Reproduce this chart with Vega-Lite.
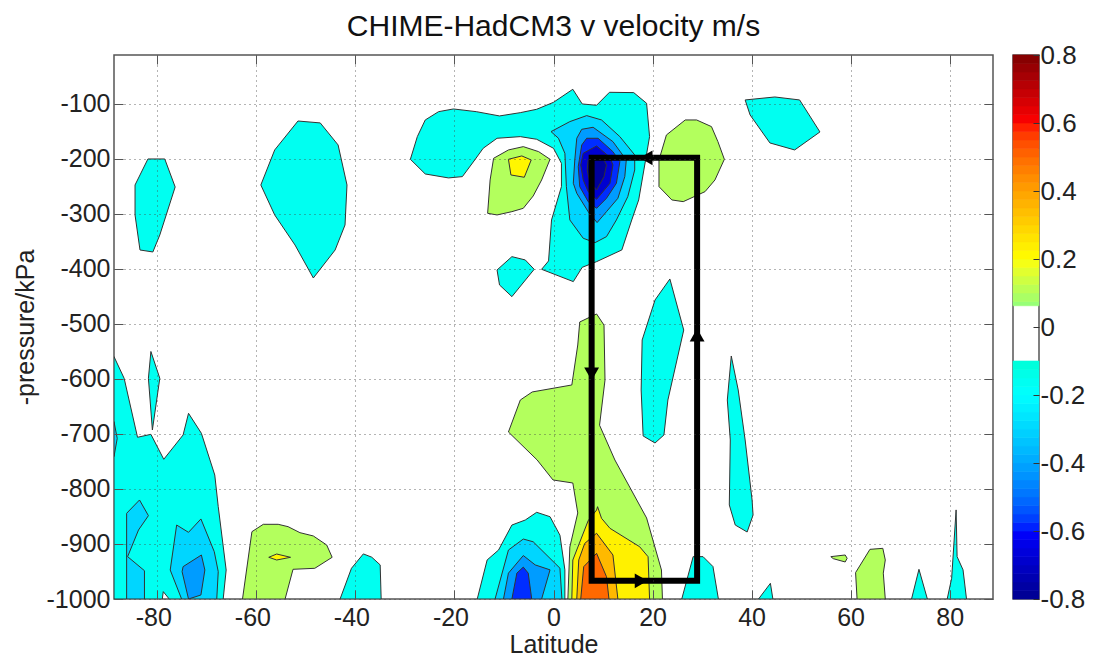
{"$schema":"https://vega.github.io/schema/vega-lite/v6.json","background":"white","padding":{"left":12,"top":10,"right":0,"bottom":0},"autosize":{"type":"pad"},"spacing":16,"config":{"font":"Liberation Sans","view":{"stroke":"#555","strokeWidth":1.5}},"datasets":{"polys":[
{"s":"a","i":0,"x":-28.9,"y":-200.6,"v":-0.16},{"s":"a","i":1,"x":-27.5,"y":-159.4,"v":-0.16},{"s":"a","i":2,"x":-25.9,"y":-129.1,"v":-0.16},{"s":"a","i":3,"x":-23.2,"y":-114,"v":-0.16},{"s":"a","i":4,"x":-20.2,"y":-109.1,"v":-0.16},{"s":"a","i":5,"x":-15.6,"y":-114,"v":-0.16},{"s":"a","i":6,"x":-10.9,"y":-121.8,"v":-0.16},{"s":"a","i":7,"x":-6.7,"y":-115.8,"v":-0.16},{"s":"a","i":8,"x":-3.4,"y":-109.7,"v":-0.16},{"s":"a","i":9,"x":0,"y":-97,"v":-0.16},{"s":"a","i":10,"x":3.9,"y":-73.3,"v":-0.16},{"s":"a","i":11,"x":5.8,"y":-100,"v":-0.16},{"s":"a","i":12,"x":8.7,"y":-102.4,"v":-0.16},{"s":"a","i":13,"x":11.3,"y":-78.8,"v":-0.16},{"s":"a","i":14,"x":16.2,"y":-79.4,"v":-0.16},{"s":"a","i":15,"x":18.8,"y":-98.8,"v":-0.16},{"s":"a","i":16,"x":19.4,"y":-159.4,"v":-0.16},{"s":"a","i":17,"x":18.6,"y":-201.8,"v":-0.16},{"s":"a","i":18,"x":17.2,"y":-274.5,"v":-0.16},{"s":"a","i":19,"x":15.8,"y":-310.9,"v":-0.16},{"s":"a","i":20,"x":13.8,"y":-365.4,"v":-0.16},{"s":"a","i":21,"x":8.7,"y":-386.7,"v":-0.16},{"s":"a","i":22,"x":5.8,"y":-397,"v":-0.16},{"s":"a","i":23,"x":4,"y":-423,"v":-0.16},{"s":"a","i":24,"x":-2.4,"y":-400.6,"v":-0.16},{"s":"a","i":25,"x":-1,"y":-385.4,"v":-0.16},{"s":"a","i":26,"x":-0.4,"y":-310.9,"v":-0.16},{"s":"a","i":27,"x":1.6,"y":-250.3,"v":-0.16},{"s":"a","i":28,"x":1.6,"y":-207.9,"v":-0.16},{"s":"a","i":29,"x":0,"y":-180.6,"v":-0.16},{"s":"a","i":30,"x":-3.4,"y":-164.2,"v":-0.16},{"s":"a","i":31,"x":-6.7,"y":-159.4,"v":-0.16},{"s":"a","i":32,"x":-11.4,"y":-162.4,"v":-0.16},{"s":"a","i":33,"x":-14.2,"y":-180.6,"v":-0.16},{"s":"a","i":34,"x":-15.9,"y":-201.8,"v":-0.16},{"s":"a","i":35,"x":-18.4,"y":-232.1,"v":-0.16},{"s":"a","i":36,"x":-21.2,"y":-234.5,"v":-0.16},{"s":"a","i":37,"x":-25.9,"y":-227.3,"v":-0.16},{"s":"a","i":38,"x":-28.9,"y":-200.6,"v":-0.16},
{"s":"b","i":0,"x":-0.5,"y":-150.3,"v":-0.3},{"s":"b","i":1,"x":3.3,"y":-132.1,"v":-0.3},{"s":"b","i":2,"x":6.7,"y":-121.2,"v":-0.3},{"s":"b","i":3,"x":9.7,"y":-129.1,"v":-0.3},{"s":"b","i":4,"x":13.4,"y":-159.4,"v":-0.3},{"s":"b","i":5,"x":16.4,"y":-192.7,"v":-0.3},{"s":"b","i":6,"x":16.4,"y":-220,"v":-0.3},{"s":"b","i":7,"x":15,"y":-268.5,"v":-0.3},{"s":"b","i":8,"x":12.7,"y":-310.9,"v":-0.3},{"s":"b","i":9,"x":10.7,"y":-341.2,"v":-0.3},{"s":"b","i":10,"x":8.4,"y":-352.1,"v":-0.3},{"s":"b","i":11,"x":6,"y":-344.2,"v":-0.3},{"s":"b","i":12,"x":3.3,"y":-310.9,"v":-0.3},{"s":"b","i":13,"x":2.6,"y":-250.3,"v":-0.3},{"s":"b","i":14,"x":2.3,"y":-189.7,"v":-0.3},{"s":"b","i":15,"x":1,"y":-162.4,"v":-0.3},{"s":"b","i":16,"x":-0.5,"y":-150.3,"v":-0.3},
{"s":"c","i":0,"x":4.7,"y":-162.4,"v":-0.42},{"s":"c","i":1,"x":5.7,"y":-146.1,"v":-0.42},{"s":"c","i":2,"x":8,"y":-142.4,"v":-0.42},{"s":"c","i":3,"x":12,"y":-168.5,"v":-0.42},{"s":"c","i":4,"x":14.7,"y":-201.8,"v":-0.42},{"s":"c","i":5,"x":14.4,"y":-232.1,"v":-0.42},{"s":"c","i":6,"x":13,"y":-271.5,"v":-0.42},{"s":"c","i":7,"x":10.7,"y":-295.8,"v":-0.42},{"s":"c","i":8,"x":8.8,"y":-315.7,"v":-0.42},{"s":"c","i":9,"x":7,"y":-295.8,"v":-0.42},{"s":"c","i":10,"x":4.7,"y":-262.4,"v":-0.42},{"s":"c","i":11,"x":4,"y":-244.2,"v":-0.42},{"s":"c","i":12,"x":4.3,"y":-201.8,"v":-0.42},{"s":"c","i":13,"x":4.7,"y":-162.4,"v":-0.42},
{"s":"d","i":0,"x":5.7,"y":-174.6,"v":-0.58},{"s":"d","i":1,"x":6.7,"y":-162.4,"v":-0.58},{"s":"d","i":2,"x":9,"y":-162.4,"v":-0.58},{"s":"d","i":3,"x":12,"y":-186.7,"v":-0.58},{"s":"d","i":4,"x":13.4,"y":-204.9,"v":-0.58},{"s":"d","i":5,"x":12.7,"y":-244.2,"v":-0.58},{"s":"d","i":6,"x":10.7,"y":-271.5,"v":-0.58},{"s":"d","i":7,"x":8.7,"y":-289.7,"v":-0.58},{"s":"d","i":8,"x":7,"y":-277.6,"v":-0.58},{"s":"d","i":9,"x":5.3,"y":-250.3,"v":-0.58},{"s":"d","i":10,"x":5,"y":-213.9,"v":-0.58},{"s":"d","i":11,"x":5.7,"y":-174.6,"v":-0.58},
{"s":"e","i":0,"x":6,"y":-189.7,"v":-0.68},{"s":"e","i":1,"x":8.7,"y":-176.4,"v":-0.68},{"s":"e","i":2,"x":11.4,"y":-197,"v":-0.68},{"s":"e","i":3,"x":12,"y":-210.9,"v":-0.68},{"s":"e","i":4,"x":11.4,"y":-244.2,"v":-0.68},{"s":"e","i":5,"x":8.7,"y":-273.3,"v":-0.68},{"s":"e","i":6,"x":7,"y":-259.4,"v":-0.68},{"s":"e","i":7,"x":6,"y":-238.2,"v":-0.68},{"s":"e","i":8,"x":5.5,"y":-210.9,"v":-0.68},{"s":"e","i":9,"x":6,"y":-189.7,"v":-0.68},
{"s":"f","i":0,"x":7,"y":-201.8,"v":-0.78},{"s":"f","i":1,"x":10,"y":-198.8,"v":-0.78},{"s":"f","i":2,"x":10.7,"y":-210.9,"v":-0.78},{"s":"f","i":3,"x":10.2,"y":-232.1,"v":-0.78},{"s":"f","i":4,"x":8.7,"y":-256.4,"v":-0.78},{"s":"f","i":5,"x":7.3,"y":-241.2,"v":-0.78},{"s":"f","i":6,"x":6.8,"y":-220,"v":-0.78},{"s":"f","i":7,"x":7,"y":-201.8,"v":-0.78},
{"s":"g","i":0,"x":-12.1,"y":-198.8,"v":0.1},{"s":"g","i":1,"x":-9.1,"y":-183.6,"v":0.1},{"s":"g","i":2,"x":-6.1,"y":-177.6,"v":0.1},{"s":"g","i":3,"x":-3,"y":-186.7,"v":0.1},{"s":"g","i":4,"x":-0.7,"y":-200.6,"v":0.1},{"s":"g","i":5,"x":-2.4,"y":-238.2,"v":0.1},{"s":"g","i":6,"x":-4.1,"y":-267.3,"v":0.1},{"s":"g","i":7,"x":-6.1,"y":-289.7,"v":0.1},{"s":"g","i":8,"x":-8.4,"y":-295.8,"v":0.1},{"s":"g","i":9,"x":-11.4,"y":-301.8,"v":0.1},{"s":"g","i":10,"x":-13.3,"y":-298.8,"v":0.1},{"s":"g","i":11,"x":-12.8,"y":-238.2,"v":0.1},{"s":"g","i":12,"x":-12.1,"y":-198.8,"v":0.1},
{"s":"h","i":0,"x":-9.1,"y":-200.6,"v":0.22},{"s":"h","i":1,"x":-6.4,"y":-194.5,"v":0.22},{"s":"h","i":2,"x":-4.5,"y":-201.8,"v":0.22},{"s":"h","i":3,"x":-5.9,"y":-233.3,"v":0.22},{"s":"h","i":4,"x":-8.6,"y":-229.1,"v":0.22},{"s":"h","i":5,"x":-9.1,"y":-200.6,"v":0.22},
{"s":"k","i":0,"x":21.3,"y":-201.8,"v":0.1},{"s":"k","i":1,"x":22.8,"y":-156.4,"v":0.1},{"s":"k","i":2,"x":26.6,"y":-129.1,"v":0.1},{"s":"k","i":3,"x":28.9,"y":-129.1,"v":0.1},{"s":"k","i":4,"x":31.9,"y":-141.2,"v":0.1},{"s":"k","i":5,"x":33.2,"y":-168.5,"v":0.1},{"s":"k","i":6,"x":34.5,"y":-200.6,"v":0.1},{"s":"k","i":7,"x":32.6,"y":-238.2,"v":0.1},{"s":"k","i":8,"x":30.6,"y":-259.4,"v":0.1},{"s":"k","i":9,"x":26.2,"y":-277.6,"v":0.1},{"s":"k","i":10,"x":23.9,"y":-274.5,"v":0.1},{"s":"k","i":11,"x":21.3,"y":-250.3,"v":0.1},{"s":"k","i":12,"x":21.3,"y":-201.8,"v":0.1},
{"s":"l","i":0,"x":-11.4,"y":-401.8,"v":-0.16},{"s":"l","i":1,"x":-8.4,"y":-377.6,"v":-0.16},{"s":"l","i":2,"x":-5.7,"y":-383.6,"v":-0.16},{"s":"l","i":3,"x":-3.9,"y":-400.6,"v":-0.16},{"s":"l","i":4,"x":-8.4,"y":-450.3,"v":-0.16},{"s":"l","i":5,"x":-10.9,"y":-429.1,"v":-0.16},{"s":"l","i":6,"x":-11.4,"y":-401.8,"v":-0.16},
{"s":"m","i":0,"x":-59.1,"y":-247.3,"v":-0.16},{"s":"m","i":1,"x":-56.3,"y":-183.6,"v":-0.16},{"s":"m","i":2,"x":-51.6,"y":-131,"v":-0.16},{"s":"m","i":3,"x":-47.1,"y":-134.5,"v":-0.16},{"s":"m","i":4,"x":-43.5,"y":-174.5,"v":-0.16},{"s":"m","i":5,"x":-41.7,"y":-247.3,"v":-0.16},{"s":"m","i":6,"x":-42.1,"y":-320,"v":-0.16},{"s":"m","i":7,"x":-44.1,"y":-365.5,"v":-0.16},{"s":"m","i":8,"x":-48.5,"y":-416.4,"v":-0.16},{"s":"m","i":9,"x":-52.2,"y":-356.4,"v":-0.16},{"s":"m","i":10,"x":-56.3,"y":-301.8,"v":-0.16},{"s":"m","i":11,"x":-59.1,"y":-247.3,"v":-0.16},
{"s":"n","i":0,"x":-84.5,"y":-247.3,"v":-0.16},{"s":"n","i":1,"x":-81.9,"y":-200,"v":-0.16},{"s":"n","i":2,"x":-78.5,"y":-200,"v":-0.16},{"s":"n","i":3,"x":-76.4,"y":-250.9,"v":-0.16},{"s":"n","i":4,"x":-79.5,"y":-338.2,"v":-0.16},{"s":"n","i":5,"x":-80.9,"y":-369.1,"v":-0.16},{"s":"n","i":6,"x":-83.5,"y":-365.5,"v":-0.16},{"s":"n","i":7,"x":-84.5,"y":-301.8,"v":-0.16},{"s":"n","i":8,"x":-84.5,"y":-247.3,"v":-0.16},
{"s":"o","i":0,"x":38.7,"y":-92.7,"v":-0.16},{"s":"o","i":1,"x":44.7,"y":-87.3,"v":-0.16},{"s":"o","i":2,"x":49.7,"y":-92.7,"v":-0.16},{"s":"o","i":3,"x":53.8,"y":-150.9,"v":-0.16},{"s":"o","i":4,"x":48.7,"y":-183.6,"v":-0.16},{"s":"o","i":5,"x":43.7,"y":-170.9,"v":-0.16},{"s":"o","i":6,"x":39.7,"y":-120,"v":-0.16},{"s":"o","i":7,"x":38.7,"y":-92.7,"v":-0.16},
{"s":"p","i":0,"x":23.5,"y":-418.2,"v":-0.16},{"s":"p","i":1,"x":26.3,"y":-511,"v":-0.16},{"s":"p","i":2,"x":23.1,"y":-638.2,"v":-0.16},{"s":"p","i":3,"x":22.3,"y":-701.8,"v":-0.16},{"s":"p","i":4,"x":20.5,"y":-716.4,"v":-0.16},{"s":"p","i":5,"x":18.1,"y":-703.6,"v":-0.16},{"s":"p","i":6,"x":17.7,"y":-620,"v":-0.16},{"s":"p","i":7,"x":17.9,"y":-529.1,"v":-0.16},{"s":"p","i":8,"x":20.5,"y":-456.4,"v":-0.16},{"s":"p","i":9,"x":23.5,"y":-418.2,"v":-0.16},
{"s":"q","i":0,"x":35.9,"y":-558.2,"v":-0.16},{"s":"q","i":1,"x":37.3,"y":-620,"v":-0.16},{"s":"q","i":2,"x":38.7,"y":-710.9,"v":-0.16},{"s":"q","i":3,"x":40.1,"y":-820,"v":-0.16},{"s":"q","i":4,"x":40.3,"y":-847.3,"v":-0.16},{"s":"q","i":5,"x":39.1,"y":-878.2,"v":-0.16},{"s":"q","i":6,"x":36.7,"y":-865.5,"v":-0.16},{"s":"q","i":7,"x":35.5,"y":-829.1,"v":-0.16},{"s":"q","i":8,"x":35.7,"y":-710.9,"v":-0.16},{"s":"q","i":9,"x":35.1,"y":-638.2,"v":-0.16},{"s":"q","i":10,"x":35.9,"y":-558.2,"v":-0.16},
{"s":"r","i":0,"x":5.3,"y":-496.4,"v":0.1},{"s":"r","i":1,"x":8.7,"y":-481.8,"v":0.1},{"s":"r","i":2,"x":10.2,"y":-502,"v":0.1},{"s":"r","i":3,"x":10.4,"y":-602,"v":0.1},{"s":"r","i":4,"x":9.3,"y":-684,"v":0.1},{"s":"r","i":5,"x":12.4,"y":-747.3,"v":0.1},{"s":"r","i":6,"x":18.8,"y":-852.7,"v":0.1},{"s":"r","i":7,"x":21.8,"y":-947.3,"v":0.1},{"s":"r","i":8,"x":22,"y":-1000,"v":0.1},{"s":"r","i":9,"x":2.9,"y":-1000,"v":0.1},{"s":"r","i":10,"x":3.3,"y":-905.5,"v":0.1},{"s":"r","i":11,"x":4.9,"y":-843.6,"v":0.1},{"s":"r","i":12,"x":3.9,"y":-789.1,"v":0.1},{"s":"r","i":13,"x":-0.1,"y":-783.6,"v":0.1},{"s":"r","i":14,"x":-3.3,"y":-747.3,"v":0.1},{"s":"r","i":15,"x":-9.1,"y":-696.4,"v":0.1},{"s":"r","i":16,"x":-6.7,"y":-638.2,"v":0.1},{"s":"r","i":17,"x":-4.3,"y":-623.6,"v":0.1},{"s":"r","i":18,"x":3.7,"y":-610.9,"v":0.1},{"s":"r","i":19,"x":4.9,"y":-538.2,"v":0.1},{"s":"r","i":20,"x":5.3,"y":-496.4,"v":0.1},
{"s":"t","i":0,"x":3.7,"y":-1000,"v":0.23},{"s":"t","i":1,"x":3.9,"y":-929.1,"v":0.23},{"s":"t","i":2,"x":7,"y":-857.6,"v":0.23},{"s":"t","i":3,"x":8.7,"y":-838.2,"v":0.23},{"s":"t","i":4,"x":8.9,"y":-832.2,"v":0.23},{"s":"t","i":5,"x":9.7,"y":-853.3,"v":0.23},{"s":"t","i":6,"x":11.4,"y":-871.5,"v":0.23},{"s":"t","i":7,"x":17.4,"y":-905,"v":0.23},{"s":"t","i":8,"x":19.1,"y":-923.1,"v":0.23},{"s":"t","i":9,"x":19.4,"y":-1000,"v":0.23},{"s":"t","i":10,"x":3.7,"y":-1000,"v":0.23},
{"s":"u","i":0,"x":4.7,"y":-1000,"v":0.35},{"s":"u","i":1,"x":5.1,"y":-929,"v":0.35},{"s":"u","i":2,"x":6.3,"y":-899,"v":0.35},{"s":"u","i":3,"x":8.7,"y":-880.5,"v":0.35},{"s":"u","i":4,"x":12,"y":-920,"v":0.35},{"s":"u","i":5,"x":13,"y":-1000,"v":0.35},{"s":"u","i":6,"x":4.7,"y":-1000,"v":0.35},
{"s":"w","i":0,"x":5.5,"y":-1000,"v":0.5},{"s":"w","i":1,"x":6.1,"y":-941.3,"v":0.5},{"s":"w","i":2,"x":8.7,"y":-917,"v":0.5},{"s":"w","i":3,"x":10.7,"y":-959.5,"v":0.5},{"s":"w","i":4,"x":11.2,"y":-1000,"v":0.5},{"s":"w","i":5,"x":5.5,"y":-1000,"v":0.5},
{"s":"aa","i":0,"x":-15.4,"y":-1000,"v":-0.16},{"s":"aa","i":1,"x":-13.4,"y":-929,"v":-0.16},{"s":"aa","i":2,"x":-11.1,"y":-911,"v":-0.16},{"s":"aa","i":3,"x":-8.4,"y":-865.5,"v":-0.16},{"s":"aa","i":4,"x":-5.7,"y":-856.4,"v":-0.16},{"s":"aa","i":5,"x":-3.4,"y":-842.4,"v":-0.16},{"s":"aa","i":6,"x":-0.7,"y":-850.4,"v":-0.16},{"s":"aa","i":7,"x":1.3,"y":-884,"v":-0.16},{"s":"aa","i":8,"x":2.3,"y":-947,"v":-0.16},{"s":"aa","i":9,"x":2.3,"y":-1000,"v":-0.16},{"s":"aa","i":10,"x":-15.4,"y":-1000,"v":-0.16},
{"s":"ab","i":0,"x":-11.8,"y":-1000,"v":-0.3},{"s":"ab","i":1,"x":-9.1,"y":-911,"v":-0.3},{"s":"ab","i":2,"x":-6.1,"y":-891,"v":-0.3},{"s":"ab","i":3,"x":-4.1,"y":-896,"v":-0.3},{"s":"ab","i":4,"x":1.3,"y":-944,"v":-0.3},{"s":"ab","i":5,"x":1.7,"y":-1000,"v":-0.3},{"s":"ab","i":6,"x":-11.8,"y":-1000,"v":-0.3},
{"s":"ac","i":0,"x":-10.1,"y":-1000,"v":-0.42},{"s":"ac","i":1,"x":-9.1,"y":-953,"v":-0.42},{"s":"ac","i":2,"x":-6.1,"y":-921,"v":-0.42},{"s":"ac","i":3,"x":-3.7,"y":-938,"v":-0.42},{"s":"ac","i":4,"x":-0.7,"y":-947,"v":-0.42},{"s":"ac","i":5,"x":-2.4,"y":-1000,"v":-0.42},{"s":"ac","i":6,"x":-10.1,"y":-1000,"v":-0.42},
{"s":"ad","i":0,"x":-8.4,"y":-1000,"v":-0.58},{"s":"ad","i":1,"x":-7.4,"y":-953,"v":-0.58},{"s":"ad","i":2,"x":-6.1,"y":-942,"v":-0.58},{"s":"ad","i":3,"x":-5.1,"y":-953,"v":-0.58},{"s":"ad","i":4,"x":-4.4,"y":-1000,"v":-0.58},{"s":"ad","i":5,"x":-8.4,"y":-1000,"v":-0.58},
{"s":"ae","i":0,"x":25.9,"y":-1000,"v":-0.16},{"s":"ae","i":1,"x":28.2,"y":-923,"v":-0.16},{"s":"ae","i":2,"x":30.2,"y":-923,"v":-0.16},{"s":"ae","i":3,"x":32.2,"y":-941,"v":-0.16},{"s":"ae","i":4,"x":33.3,"y":-1000,"v":-0.16},{"s":"ae","i":5,"x":25.9,"y":-1000,"v":-0.16},
{"s":"af","i":0,"x":-88.75,"y":-559.4,"v":-0.16},{"s":"af","i":1,"x":-86.7,"y":-598.8,"v":-0.16},{"s":"af","i":2,"x":-84,"y":-706,"v":-0.16},{"s":"af","i":3,"x":-81.3,"y":-700.6,"v":-0.16},{"s":"af","i":4,"x":-78.7,"y":-746,"v":-0.16},{"s":"af","i":5,"x":-74.8,"y":-701.8,"v":-0.16},{"s":"af","i":6,"x":-73.7,"y":-662.4,"v":-0.16},{"s":"af","i":7,"x":-71.1,"y":-698.8,"v":-0.16},{"s":"af","i":8,"x":-68.4,"y":-774.6,"v":-0.16},{"s":"af","i":9,"x":-67.7,"y":-832.1,"v":-0.16},{"s":"af","i":10,"x":-66.1,"y":-947.3,"v":-0.16},{"s":"af","i":11,"x":-66.7,"y":-1000,"v":-0.16},{"s":"af","i":12,"x":-77.6,"y":-1000,"v":-0.16},{"s":"af","i":13,"x":-78.8,"y":-986.6,"v":-0.16},{"s":"af","i":14,"x":-79,"y":-1000,"v":-0.16},{"s":"af","i":15,"x":-88.75,"y":-1000,"v":-0.16},{"s":"af","i":16,"x":-88.75,"y":-559.4,"v":-0.16},
{"s":"ag","i":0,"x":-88.75,"y":-677.6,"v":-0.3},{"s":"ag","i":1,"x":-88.1,"y":-708,"v":-0.3},{"s":"ag","i":2,"x":-88.75,"y":-741,"v":-0.3},{"s":"ag","i":3,"x":-88.75,"y":-677.6,"v":-0.3},
{"s":"ah","i":0,"x":-81.3,"y":-550,"v":-0.16},{"s":"ah","i":1,"x":-79.5,"y":-598.8,"v":-0.16},{"s":"ah","i":2,"x":-81,"y":-692.7,"v":-0.16},{"s":"ah","i":3,"x":-81.8,"y":-598.8,"v":-0.16},{"s":"ah","i":4,"x":-81.3,"y":-550,"v":-0.16},
{"s":"ai","i":0,"x":-86.2,"y":-844.2,"v":-0.3},{"s":"ai","i":1,"x":-83.6,"y":-820,"v":-0.3},{"s":"ai","i":2,"x":-81.8,"y":-848.5,"v":-0.3},{"s":"ai","i":3,"x":-83.8,"y":-874.5,"v":-0.3},{"s":"ai","i":4,"x":-86,"y":-923,"v":-0.3},{"s":"ai","i":5,"x":-82.6,"y":-948.5,"v":-0.3},{"s":"ai","i":6,"x":-82.6,"y":-1000,"v":-0.3},{"s":"ai","i":7,"x":-86.2,"y":-1000,"v":-0.3},{"s":"ai","i":8,"x":-86.2,"y":-844.2,"v":-0.3},
{"s":"aj","i":0,"x":-76.1,"y":-865.5,"v":-0.3},{"s":"aj","i":1,"x":-73.7,"y":-878.8,"v":-0.3},{"s":"aj","i":2,"x":-71.2,"y":-854.5,"v":-0.3},{"s":"aj","i":3,"x":-68.5,"y":-914,"v":-0.3},{"s":"aj","i":4,"x":-67.7,"y":-950.3,"v":-0.3},{"s":"aj","i":5,"x":-68,"y":-1000,"v":-0.3},{"s":"aj","i":6,"x":-75.1,"y":-1000,"v":-0.3},{"s":"aj","i":7,"x":-77.4,"y":-947.3,"v":-0.3},{"s":"aj","i":8,"x":-76.1,"y":-865.5,"v":-0.3},
{"s":"ak","i":0,"x":-74.8,"y":-941.2,"v":-0.42},{"s":"ak","i":1,"x":-71.1,"y":-920,"v":-0.42},{"s":"ak","i":2,"x":-70.4,"y":-947.3,"v":-0.42},{"s":"ak","i":3,"x":-71.2,"y":-992.7,"v":-0.42},{"s":"ak","i":4,"x":-73.7,"y":-1000,"v":-0.42},{"s":"ak","i":5,"x":-75,"y":-950.3,"v":-0.42},{"s":"ak","i":6,"x":-74.8,"y":-941.2,"v":-0.42},
{"s":"al","i":0,"x":-60.9,"y":-877.6,"v":0.1},{"s":"al","i":1,"x":-58.6,"y":-864.2,"v":0.1},{"s":"al","i":2,"x":-55.6,"y":-864.2,"v":0.1},{"s":"al","i":3,"x":-53.6,"y":-868.5,"v":0.1},{"s":"al","i":4,"x":-51.2,"y":-879.4,"v":0.1},{"s":"al","i":5,"x":-48.5,"y":-885.4,"v":0.1},{"s":"al","i":6,"x":-45.8,"y":-901.8,"v":0.1},{"s":"al","i":7,"x":-44.7,"y":-924.2,"v":0.1},{"s":"al","i":8,"x":-48.2,"y":-944.2,"v":0.1},{"s":"al","i":9,"x":-52.6,"y":-946,"v":0.1},{"s":"al","i":10,"x":-54.2,"y":-1000,"v":0.1},{"s":"al","i":11,"x":-62.8,"y":-1000,"v":0.1},{"s":"al","i":12,"x":-60.9,"y":-877.6,"v":0.1},
{"s":"am","i":0,"x":-57.5,"y":-924.2,"v":0.22},{"s":"am","i":1,"x":-55.9,"y":-918.2,"v":0.22},{"s":"am","i":2,"x":-53.1,"y":-924.2,"v":0.22},{"s":"am","i":3,"x":-55.9,"y":-929.1,"v":0.22},{"s":"am","i":4,"x":-57.5,"y":-924.2,"v":0.22},
{"s":"an","i":0,"x":-43.1,"y":-1000,"v":-0.16},{"s":"an","i":1,"x":-40.8,"y":-944.2,"v":-0.16},{"s":"an","i":2,"x":-38.4,"y":-918,"v":-0.16},{"s":"an","i":3,"x":-36.7,"y":-924,"v":-0.16},{"s":"an","i":4,"x":-35,"y":-938,"v":-0.16},{"s":"an","i":5,"x":-34.8,"y":-1000,"v":-0.16},{"s":"an","i":6,"x":-43.1,"y":-1000,"v":-0.16},
{"s":"ao","i":0,"x":41.4,"y":-1000,"v":-0.16},{"s":"ao","i":1,"x":43.8,"y":-971.5,"v":-0.16},{"s":"ao","i":2,"x":44.3,"y":-1000,"v":-0.16},{"s":"ao","i":3,"x":41.4,"y":-1000,"v":-0.16},
{"s":"ap","i":0,"x":56,"y":-923,"v":0.1},{"s":"ap","i":1,"x":58.9,"y":-920,"v":0.1},{"s":"ap","i":2,"x":59.3,"y":-926,"v":0.1},{"s":"ap","i":3,"x":58.9,"y":-932.7,"v":0.1},{"s":"ap","i":4,"x":56.5,"y":-926.7,"v":0.1},{"s":"ap","i":5,"x":56,"y":-923,"v":0.1},
{"s":"aq","i":0,"x":61.3,"y":-1000,"v":0.1},{"s":"aq","i":1,"x":61,"y":-952,"v":0.1},{"s":"aq","i":2,"x":63.9,"y":-909.7,"v":0.1},{"s":"aq","i":3,"x":66.5,"y":-907.9,"v":0.1},{"s":"aq","i":4,"x":67,"y":-929,"v":0.1},{"s":"aq","i":5,"x":66.6,"y":-953,"v":0.1},{"s":"aq","i":6,"x":67,"y":-1000,"v":0.1},{"s":"aq","i":7,"x":61.3,"y":-1000,"v":0.1},
{"s":"ar","i":0,"x":72.3,"y":-1000,"v":-0.16},{"s":"ar","i":1,"x":73.8,"y":-946,"v":-0.16},{"s":"ar","i":2,"x":75.5,"y":-1000,"v":-0.16},{"s":"ar","i":3,"x":72.3,"y":-1000,"v":-0.16},
{"s":"as","i":0,"x":79.5,"y":-1000,"v":-0.16},{"s":"as","i":1,"x":80.4,"y":-962.4,"v":-0.16},{"s":"as","i":2,"x":81.3,"y":-838,"v":-0.16},{"s":"as","i":3,"x":81.5,"y":-923,"v":-0.16},{"s":"as","i":4,"x":82.7,"y":-947,"v":-0.16},{"s":"as","i":5,"x":83.4,"y":-1000,"v":-0.16},{"s":"as","i":6,"x":79.5,"y":-1000,"v":-0.16}
],
"circ":[{"i":0,"x":7.7,"y":-198},{"i":1,"x":29,"y":-198},{"i":2,"x":29,"y":-967},{"i":3,"x":7.7,"y":-967},{"i":4,"x":7.7,"y":-198}],
"arrows":[{"x":18.7,"y":-198,"d":"left"},{"x":7.7,"y":-591,"d":"down"},{"x":29,"y":-520,"d":"up"},{"x":17.7,"y":-967,"d":"right"}],
"bar":[{"lo":-0.8,"hi":-0.775,"v":-0.7875},{"lo":-0.775,"hi":-0.75,"v":-0.7625},{"lo":-0.75,"hi":-0.725,"v":-0.7375},{"lo":-0.725,"hi":-0.7,"v":-0.7125},{"lo":-0.7,"hi":-0.675,"v":-0.6875},{"lo":-0.675,"hi":-0.65,"v":-0.6625},{"lo":-0.65,"hi":-0.625,"v":-0.6375},{"lo":-0.625,"hi":-0.6,"v":-0.6125},{"lo":-0.6,"hi":-0.575,"v":-0.5875},{"lo":-0.575,"hi":-0.55,"v":-0.5625},{"lo":-0.55,"hi":-0.525,"v":-0.5375},{"lo":-0.525,"hi":-0.5,"v":-0.5125},{"lo":-0.5,"hi":-0.475,"v":-0.4875},{"lo":-0.475,"hi":-0.45,"v":-0.4625},{"lo":-0.45,"hi":-0.425,"v":-0.4375},{"lo":-0.425,"hi":-0.4,"v":-0.4125},{"lo":-0.4,"hi":-0.375,"v":-0.3875},{"lo":-0.375,"hi":-0.35,"v":-0.3625},{"lo":-0.35,"hi":-0.325,"v":-0.3375},{"lo":-0.325,"hi":-0.3,"v":-0.3125},{"lo":-0.3,"hi":-0.275,"v":-0.2875},{"lo":-0.275,"hi":-0.25,"v":-0.2625},{"lo":-0.25,"hi":-0.225,"v":-0.2375},{"lo":-0.225,"hi":-0.2,"v":-0.2125},{"lo":-0.2,"hi":-0.175,"v":-0.1875},{"lo":-0.175,"hi":-0.15,"v":-0.1625},{"lo":-0.15,"hi":-0.125,"v":-0.1375},{"lo":-0.125,"hi":-0.1,"v":-0.1125},
{"lo":0.0625,"hi":0.075,"v":0.0625},{"lo":0.075,"hi":0.1,"v":0.0875},{"lo":0.1,"hi":0.125,"v":0.1125},{"lo":0.125,"hi":0.15,"v":0.1375},{"lo":0.15,"hi":0.175,"v":0.1625},{"lo":0.175,"hi":0.2,"v":0.1875},{"lo":0.2,"hi":0.225,"v":0.2125},{"lo":0.225,"hi":0.25,"v":0.2375},{"lo":0.25,"hi":0.275,"v":0.2625},{"lo":0.275,"hi":0.3,"v":0.2875},{"lo":0.3,"hi":0.325,"v":0.3125},{"lo":0.325,"hi":0.35,"v":0.3375},{"lo":0.35,"hi":0.375,"v":0.3625},{"lo":0.375,"hi":0.4,"v":0.3875},{"lo":0.4,"hi":0.425,"v":0.4125},{"lo":0.425,"hi":0.45,"v":0.4375},{"lo":0.45,"hi":0.475,"v":0.4625},{"lo":0.475,"hi":0.5,"v":0.4875},{"lo":0.5,"hi":0.525,"v":0.5125},{"lo":0.525,"hi":0.55,"v":0.5375},{"lo":0.55,"hi":0.575,"v":0.5625},{"lo":0.575,"hi":0.6,"v":0.5875},{"lo":0.6,"hi":0.625,"v":0.6125},{"lo":0.625,"hi":0.65,"v":0.6375},{"lo":0.65,"hi":0.675,"v":0.6625},{"lo":0.675,"hi":0.7,"v":0.6875},{"lo":0.7,"hi":0.725,"v":0.7125},{"lo":0.725,"hi":0.75,"v":0.7375},{"lo":0.75,"hi":0.775,"v":0.7625},{"lo":0.775,"hi":0.8,"v":0.7875}]},
"hconcat":[
{"width":879,"height":544,"title":{"text":"CHIME-HadCM3 v velocity m/s","fontSize":30,"fontWeight":"normal","font":"Liberation Sans","color":"#111","anchor":"middle","offset":13},
"layer":[
{"data":{"name":"polys"},"mark":{"type":"line","stroke":"#333","strokeWidth":1,"clip":true,"strokeJoin":"round"},"encoding":{
"x":{"field":"x","type":"quantitative","scale":{"domain":[-88.75,88.75],"nice":false,"zero":false},"axis":{"title":"Latitude","values":[-80,-60,-40,-20,0,20,40,60,80],"labelExpr":"replace(datum.label,'−','-')","labelOffset":{"condition":{"test":"datum.value<0","value":-4},"value":0},"grid":true,"gridDash":[1,4],"gridColor":"#444","gridOpacity":0.8,"domain":false,"ticks":true,"tickSize":-9,"tickColor":"#555","zindex":1,"labelFontSize":25,"titleFontSize":25,"titleFontWeight":"normal","labelColor":"#222","titleColor":"#222","labelPadding":15,"titlePadding":2,"labelOverlap":false,"labelFlush":false}},
"y":{"field":"y","type":"quantitative","scale":{"domain":[-1000,-11],"nice":false,"zero":false},"axis":{"title":"-pressure/kPa","values":[-100,-200,-300,-400,-500,-600,-700,-800,-900,-1000],"format":"d","labelExpr":"replace(datum.label,'−','-')","grid":true,"gridDash":[1,4],"gridColor":"#444","gridOpacity":0.8,"domain":false,"tickSize":-9,"tickColor":"#555","zindex":1,"labelFontSize":25,"titleFontSize":25,"titleFontWeight":"normal","labelColor":"#222","titleColor":"#222","labelPadding":13,"titlePadding":8,"labelOverlap":false,"labelBound":false}},
"detail":{"field":"s"},"order":{"field":"i","type":"quantitative"},
"fill":{"field":"v","type":"quantitative","scale":{"domain":[-0.8,-0.6,-0.2,0.2,0.6,0.8],"range":["#00008f","#0000ff","#00ffff","#ffff00","#ff0000","#800000"]},"legend":null}}},
{"data":{"name":"circ"},"mark":{"type":"line","color":"black","strokeWidth":6,"strokeJoin":"miter","strokeCap":"square"},"encoding":{
"x":{"field":"x","type":"quantitative","axis":{"orient":"top","title":null,"labels":false,"grid":false,"domain":false,"values":[-80,-60,-40,-20,0,20,40,60,80],"tickSize":-9,"tickColor":"#555","zindex":1}},
"y":{"field":"y","type":"quantitative","axis":{"orient":"right","title":null,"labels":false,"grid":false,"domain":false,"values":[-100,-200,-300,-400,-500,-600,-700,-800,-900,-1000],"tickSize":-9,"tickColor":"#555","zindex":1}},
"order":{"field":"i","type":"quantitative"}}},
{"data":{"name":"arrows"},"mark":{"type":"point","filled":true,"color":"black","opacity":1,"size":220},"encoding":{"x":{"field":"x","type":"quantitative","axis":null},"y":{"field":"y","type":"quantitative","axis":null},"shape":{"field":"d","type":"nominal","scale":{"domain":["up","down","left","right"],"range":["triangle-up","triangle-down","triangle-left","triangle-right"]},"legend":null}}}
],
"resolve":{"axis":{"x":"independent","y":"independent"}}},
{"width":26,"height":544,"data":{"name":"bar"},"mark":{"type":"rect","strokeWidth":0.6},"encoding":{
"y":{"field":"lo","type":"quantitative","scale":{"domain":[-0.8,0.8],"nice":false,"zero":false},"axis":{"title":null,"orient":"right","values":[-0.8,-0.6,-0.4,-0.2,0,0.2,0.4,0.6,0.8],"format":".1~f","labelExpr":"replace(datum.label,'−','-')","domain":false,"grid":false,"tickSize":-6,"tickColor":"#333","zindex":1,"labelFontSize":26,"labelColor":"#222","labelPadding":7,"labelOverlap":false,"labelBound":false}},
"y2":{"field":"hi"},
"fill":{"field":"v","type":"quantitative","scale":{"domain":[-0.8,-0.6,-0.2,0.2,0.6,0.8],"range":["#00008f","#0000ff","#00ffff","#ffff00","#ff0000","#800000"]},"legend":null},
"stroke":{"field":"v","type":"quantitative","scale":{"domain":[-0.8,-0.6,-0.2,0.2,0.6,0.8],"range":["#00008f","#0000ff","#00ffff","#ffff00","#ff0000","#800000"]},"legend":null}}}
],
"resolve":{"scale":{"fill":"independent","stroke":"independent","y":"independent","x":"independent"}}}
